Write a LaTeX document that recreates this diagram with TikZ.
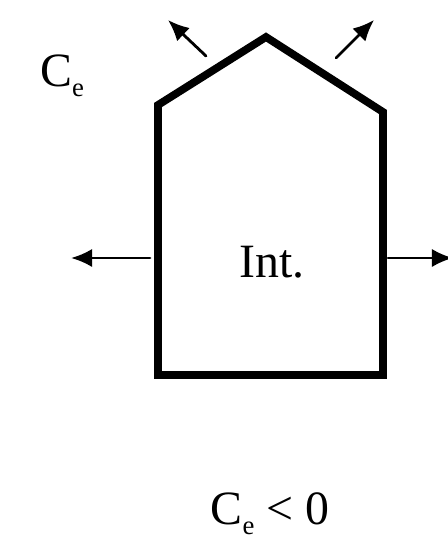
\documentclass[tikz,border=0pt]{standalone}
\usepackage{fontspec}
\setmainfont{Liberation Serif}
\usetikzlibrary{arrows.meta}
\newcommand{\sube}{{\fontsize{19}{20}\selectfont\raisebox{-7pt}{e}}}
\begin{document}
\begin{tikzpicture}[x=0.025cm, y=-0.025cm, line cap=round, line join=miter]
    % 尺寸
    \useasboundingbox (0,0) rectangle (447,539);
    \tikzset{
        wall/.style={line width=5.5pt},
        flow/.style={line width=2pt, -{Latex[length=15pt, width=13pt]}},
        lbl/.style={font=\fontsize{34}{40}\selectfont}
    }

    % 房屋外形
    \coordinate (bl) at (158,375);
    \coordinate (br) at (383,375);
    \coordinate (el) at (158,105);
    \coordinate (er) at (383,112);
    \coordinate (apex) at (266,37);
    \draw[wall] (bl) -- (el) -- (apex) -- (er) -- (br) -- cycle;

    % 风压箭头
    \coordinate (roofL) at (206,56);
    \coordinate (roofLtip) at (168,20);
    \coordinate (roofR) at (336,58);
    \coordinate (roofRtip) at (374,20);
    \coordinate (wallL) at (150,258);
    \coordinate (wallLtip) at (71,258);
    \coordinate (wallR) at (388,258);
    \coordinate (wallRtip) at (453,258);
    \draw[flow] (roofL) -- (roofLtip);
    \draw[flow] (roofR) -- (roofRtip);
    \draw[flow] (wallL) -- (wallLtip);
    \draw[flow] (wallR) -- (wallRtip);

    % 标注
    \node[lbl] (ce) at (62,76) {C\sube};
    \node[lbl] (int) at (272,262) {Int.};
    \node[lbl] (cond) at (270,514) {C\sube\ < 0};
\end{tikzpicture}
\end{document}
